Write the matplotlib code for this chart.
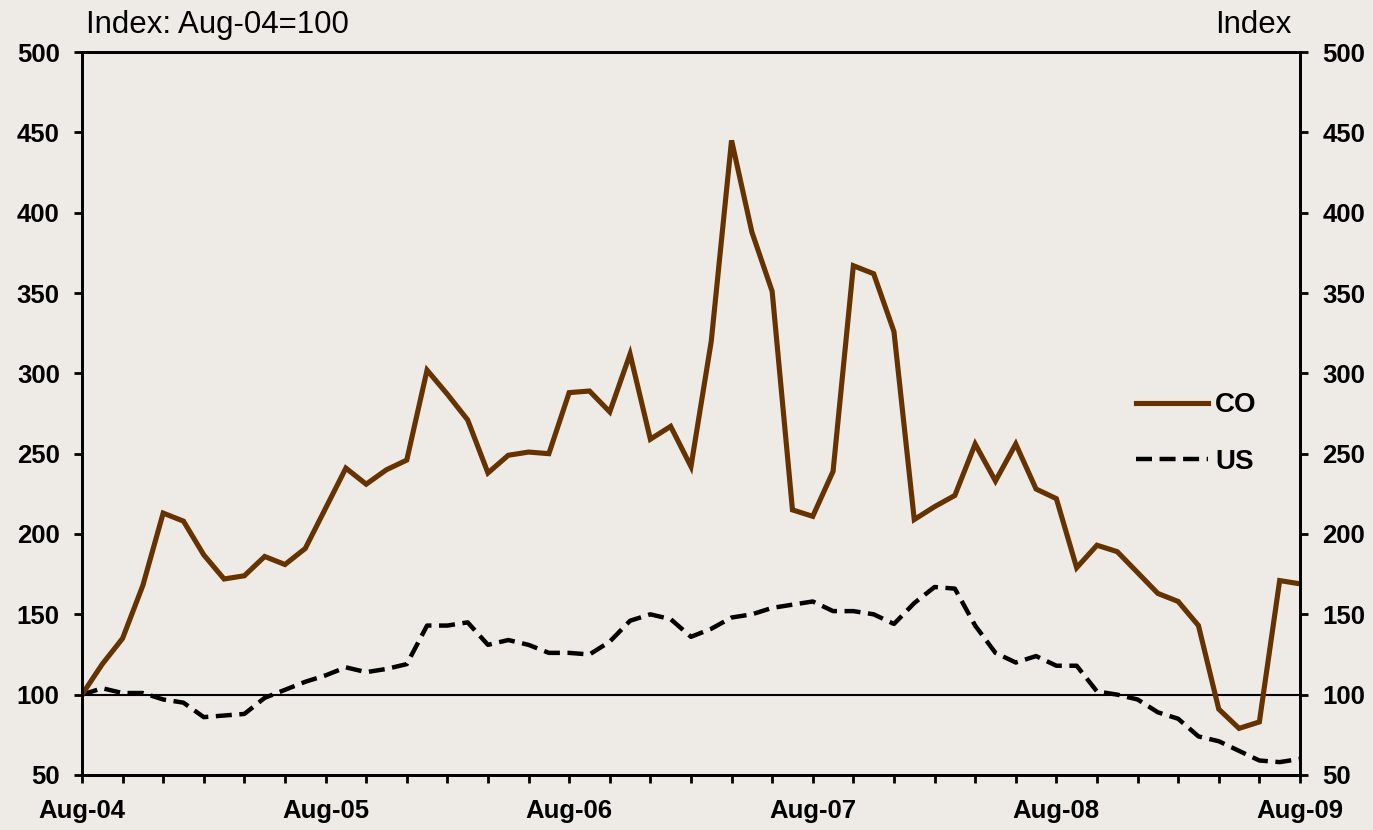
import matplotlib
matplotlib.use("Agg")
import matplotlib.pyplot as plt
import numpy as np

plt.rcParams['font.family'] = ['Liberation Sans', 'DejaVu Sans']

# monthly index, Aug-04 .. Aug-09
months = np.arange(61)
year_labels = ['Aug-04', 'Aug-05', 'Aug-06', 'Aug-07', 'Aug-08', 'Aug-09']

co = [100, 119, 135, 168, 213, 208, 187, 172, 174, 186,
      181, 191, 216, 241, 231, 240, 246, 302, 287, 271,
      238, 249, 251, 250, 288, 289, 276, 312, 259, 267,
      242, 320, 445, 388, 351, 215, 211, 239, 367, 362,
      326, 209, 217, 224, 256, 233, 256, 228, 222, 179,
      193, 189, 176, 163, 158, 143, 91, 79, 83, 171,
      169]

us = [100, 104, 101, 101, 97, 95, 86, 87, 88, 98,
      103, 108, 112, 117, 114, 116, 119, 143, 143, 145,
      131, 134, 131, 126, 126, 125, 133, 146, 150, 147,
      136, 141, 148, 150, 154, 156, 158, 152, 152, 150,
      144, 157, 167, 166, 143, 126, 120, 124, 118, 118,
      102, 100, 97, 89, 85, 74, 71, 65, 59, 58,
      60]

bg = '#EEEBE7'
fig = plt.figure(figsize=(13.73, 8.30), dpi=100, facecolor=bg)
ax = fig.add_axes([0.0597, 0.0663, 0.8871, 0.8710])
ax.set_facecolor(bg)

ax.axhline(100, color='black', lw=1.5, zorder=1)
ax.plot(months, co, color='#663300', lw=3.7, label='CO', zorder=3,
        solid_joinstyle='miter')
ax.plot(months, us, color='black', lw=3.2, linestyle=(0, (3.6, 1.7)),
        label='US', zorder=2)

ax.set_xlim(0, 60)
ax.set_ylim(50, 500)
ax.set_yticks(range(50, 501, 50))
ax.set_xticks(range(0, 61, 2))
ax.set_xticklabels([year_labels[m // 12] if m % 12 == 0 else '' for m in range(0, 61, 2)])

for s in ax.spines.values():
    s.set_linewidth(2)

ax.tick_params(axis='both', direction='out', length=6, width=2,
               labelsize=18.5)
ax.tick_params(axis='y', pad=10)
ax.tick_params(axis='x', pad=11)
for lab in ax.get_xticklabels() + ax.get_yticklabels():
    lab.set_fontweight('bold')

ax2 = ax.twinx()
ax2.set_ylim(50, 500)
ax2.set_yticks(range(50, 501, 50))
ax2.tick_params(axis='y', direction='out', length=6, width=2,
                labelsize=18.5, pad=10)
for lab in ax2.get_yticklabels():
    lab.set_fontweight('bold')
for s in ax2.spines.values():
    s.set_linewidth(2)

leg = ax.legend(loc='upper left', bbox_to_anchor=(0.845, 0.564), frameon=False,
                handlelength=2.6, handletextpad=0.25, labelspacing=1.1,
                prop={'size': 20, 'weight': 'bold'})

fig.text(86 / 1373, 1 - 33 / 830, 'Index: Aug-04=100', fontsize=22.5,
         ha='left', va='baseline')
fig.text(1292 / 1373, 1 - 33 / 830, 'Index', fontsize=22.5,
         ha='right', va='baseline')

fig.savefig('out.png', dpi=100, facecolor=bg)
